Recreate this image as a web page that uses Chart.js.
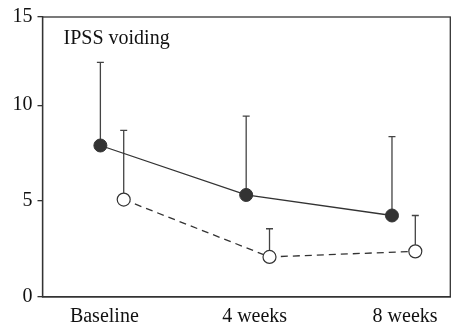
<!DOCTYPE html>
<html>
<head>
<meta charset="utf-8">
<script src="https://cdn.jsdelivr.net/npm/chart.js@4/dist/chart.umd.min.js"></script>
<style>
  html, body { margin: 0; padding: 0; background: #fff; }
  #wrap { width: 458px; height: 327px; }
</style>
</head>
<body>
<div id="wrap"><canvas id="chart" width="458" height="327"></canvas></div>
<script>
const categories = ['Baseline', '4 weeks', '8 weeks'];
const filledMean = [7.9, 5.32, 4.25];
const filledUpper = [12.23, 9.43, 8.36];
const openMean = [5.08, 2.09, 2.38];
const openUpper = [8.69, 3.56, 4.25];
const yTickLabels = ['0', '5', '10', '15'];
const panelLabel = 'IPSS voiding';

const FONT = '"Liberation Serif", "DejaVu Serif", serif';
const INK = '#333333';
const SHIFT = 0.08;
const Y_TOP = 14.6;
// category labels sit a little off the group centres in the original
const LABEL_NUDGE = [-0.053, -0.022, 0.01];

const toPoints = (vals, dx) => vals.map((v, i) => ({x: i + dx, y: v}));

// error bars: line from mean up to the upper value, with a small cap
const errorBars = {
  id: 'errorBars',
  beforeDatasetsDraw(chart) {
    const {ctx, scales: {x, y}} = chart;
    const uppers = [filledUpper, openUpper];
    ctx.save();
    ctx.strokeStyle = '#444';
    ctx.lineWidth = 1.3;
    chart.data.datasets.forEach((ds, di) => {
      ds.data.forEach((p, i) => {
        const px = x.getPixelForValue(p.x);
        const y0 = y.getPixelForValue(p.y);
        const y1 = y.getPixelForValue(uppers[di][i]);
        ctx.beginPath();
        ctx.moveTo(px, y0);
        ctx.lineTo(px, y1);
        ctx.moveTo(px - 3.5, y1);
        ctx.lineTo(px + 3.5, y1);
        ctx.stroke();
      });
    });
    ctx.restore();
  }
};

const frame = {
  id: 'frame',
  afterDraw(chart) {
    const {ctx, chartArea: a} = chart;
    ctx.save();
    ctx.strokeStyle = INK;
    ctx.lineWidth = 1.3;
    ctx.strokeRect(a.left, a.top, a.right - a.left, a.bottom - a.top);
    ctx.fillStyle = '#111';
    ctx.font = '20px ' + FONT;
    ctx.textBaseline = 'middle';
    ctx.fillText(panelLabel, a.left + 21, a.top + 22);
    ctx.restore();
  }
};

new Chart(document.getElementById('chart'), {
  type: 'scatter',
  data: {
    datasets: [{
      label: 'filled',
      data: toPoints(filledMean, -SHIFT),
      showLine: true,
      borderColor: INK,
      borderWidth: 1.3,
      backgroundColor: INK,
      pointBackgroundColor: INK,
      pointBorderColor: INK,
      pointRadius: 6.5,
      pointBorderWidth: 1
    }, {
      label: 'open',
      data: toPoints(openMean, SHIFT),
      showLine: true,
      borderColor: INK,
      borderWidth: 1.3,
      borderDash: [7, 5],
      backgroundColor: '#fff',
      pointBackgroundColor: '#fff',
      pointBorderColor: INK,
      pointRadius: 6.5,
      pointBorderWidth: 1.2
    }]
  },
  options: {
    responsive: false,
    animation: false,
    events: [],
    layout: {padding: {top: 15, right: 5.5, left: 0, bottom: 0}},
    scales: {
      x: {
        type: 'linear',
        min: -0.477,
        max: 2.32,
        afterFit: (s) => { s.height = 30; },
        afterBuildTicks: (s) => { s.ticks = categories.map((c, i) => ({value: i + LABEL_NUDGE[i]})); },
        grid: {display: false, drawTicks: false},
        border: {display: true, color: INK, width: 1.3},
        ticks: {
          padding: 8,
          color: '#111',
          font: {family: FONT, size: 20},
          callback: (v, i) => categories[i]
        }
      },
      y: {
        min: 0,
        max: Y_TOP,
        afterFit: (s) => { s.width = 42.5; },
        afterBuildTicks: (s) => {
          s.ticks = yTickLabels.map(t => ({value: Math.min(Number(t), Y_TOP)}));
        },
        grid: {drawOnChartArea: false, drawTicks: true, tickLength: 5, color: INK, lineWidth: 1.3},
        border: {display: true, color: INK, width: 1.3},
        ticks: {
          padding: 5,
          color: '#111',
          font: {family: FONT, size: 20},
          callback: (v, i) => yTickLabels[i]
        }
      }
    },
    plugins: {
      legend: {display: false},
      tooltip: {enabled: false}
    }
  },
  plugins: [errorBars, frame]
});
</script>
</body>
</html>
